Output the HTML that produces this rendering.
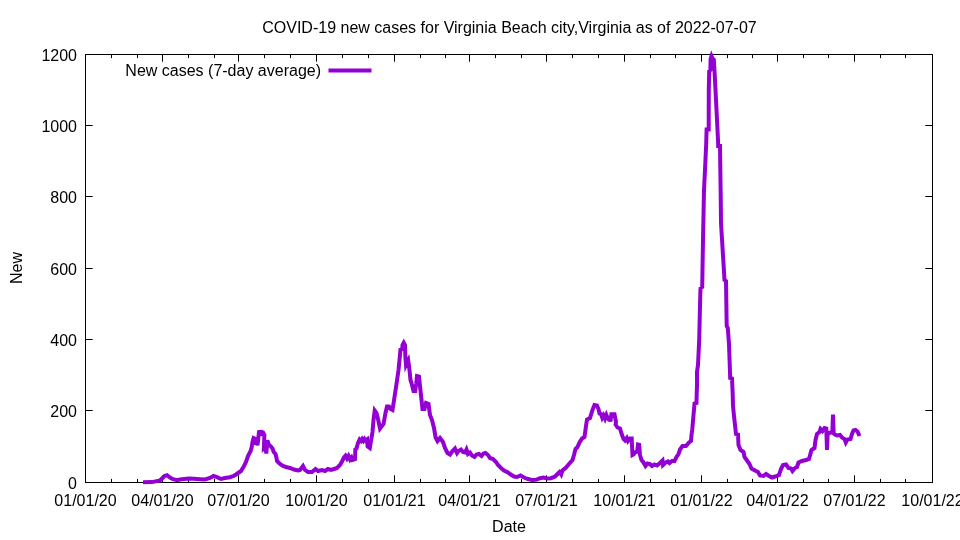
<!DOCTYPE html>
<html><head><meta charset="utf-8"><title>COVID-19 new cases</title>
<style>
html,body{margin:0;padding:0;background:#fff;}
body{width:960px;height:540px;overflow:hidden;font-family:"Liberation Sans",sans-serif;}
svg{display:block;will-change:transform;}
</style></head><body>
<svg width="960" height="540" viewBox="0 0 960 540">
<rect width="960" height="540" fill="#fff"/>
<rect x="85.5" y="54.5" width="847.0" height="428.0" fill="none" stroke="#000" stroke-width="1"/>
<path d="M85.5 482.50h7.2M932.5 482.50h-7.2M85.5 410.50h7.2M932.5 410.50h-7.2M85.5 339.50h7.2M932.5 339.50h-7.2M85.5 268.50h7.2M932.5 268.50h-7.2M85.5 196.50h7.2M932.5 196.50h-7.2M85.5 125.50h7.2M932.5 125.50h-7.2M85.5 54.50h7.2M932.5 54.50h-7.2M162.50 482.5v-7.2M162.50 54.5v7.2M238.50 482.5v-7.2M238.50 54.5v7.2M316.50 482.5v-7.2M316.50 54.5v7.2M394.50 482.5v-7.2M394.50 54.5v7.2M469.50 482.5v-7.2M469.50 54.5v7.2M546.50 482.5v-7.2M546.50 54.5v7.2M624.50 482.5v-7.2M624.50 54.5v7.2M701.50 482.5v-7.2M701.50 54.5v7.2M777.50 482.5v-7.2M777.50 54.5v7.2M854.50 482.5v-7.2M854.50 54.5v7.2M111.50 482.5v-3.6M111.50 54.5v3.6M137.50 482.5v-3.6M137.50 54.5v3.6M188.50 482.5v-3.6M188.50 54.5v3.6M214.50 482.5v-3.6M214.50 54.5v3.6M264.50 482.5v-3.6M264.50 54.5v3.6M290.50 482.5v-3.6M290.50 54.5v3.6M342.50 482.5v-3.6M342.50 54.5v3.6M368.50 482.5v-3.6M368.50 54.5v3.6M420.50 482.5v-3.6M420.50 54.5v3.6M445.50 482.5v-3.6M445.50 54.5v3.6M495.50 482.5v-3.6M495.50 54.5v3.6M521.50 482.5v-3.6M521.50 54.5v3.6M572.50 482.5v-3.6M572.50 54.5v3.6M598.50 482.5v-3.6M598.50 54.5v3.6M650.50 482.5v-3.6M650.50 54.5v3.6M675.50 482.5v-3.6M675.50 54.5v3.6M727.50 482.5v-3.6M727.50 54.5v3.6M752.50 482.5v-3.6M752.50 54.5v3.6M803.50 482.5v-3.6M803.50 54.5v3.6M828.50 482.5v-3.6M828.50 54.5v3.6M880.50 482.5v-3.6M880.50 54.5v3.6M905.50 482.5v-3.6M905.50 54.5v3.6" fill="none" stroke="#000" stroke-width="1"/>
<g font-family="Liberation Sans, sans-serif" font-size="16" fill="#000"><text x="77" y="488.50" text-anchor="end">0</text><text x="77" y="416.50" text-anchor="end">200</text><text x="77" y="345.50" text-anchor="end">400</text><text x="77" y="274.50" text-anchor="end">600</text><text x="77" y="202.50" text-anchor="end">800</text><text x="77" y="131.50" text-anchor="end">1000</text><text x="77" y="60.50" text-anchor="end">1200</text><text x="85.50" y="506" text-anchor="middle">01/01/20</text><text x="162.50" y="506" text-anchor="middle">04/01/20</text><text x="238.50" y="506" text-anchor="middle">07/01/20</text><text x="316.50" y="506" text-anchor="middle">10/01/20</text><text x="394.50" y="506" text-anchor="middle">01/01/21</text><text x="469.50" y="506" text-anchor="middle">04/01/21</text><text x="546.50" y="506" text-anchor="middle">07/01/21</text><text x="624.50" y="506" text-anchor="middle">10/01/21</text><text x="701.50" y="506" text-anchor="middle">01/01/22</text><text x="777.50" y="506" text-anchor="middle">04/01/22</text><text x="854.50" y="506" text-anchor="middle">07/01/22</text><text x="932.50" y="506" text-anchor="middle">10/01/22</text><text x="509.5" y="33" text-anchor="middle">COVID-19 new cases for Virginia Beach city,Virginia as of 2022-07-07</text><text x="509" y="532" text-anchor="middle">Date</text><text transform="translate(22,268) rotate(-90)" text-anchor="middle">New</text><text x="321" y="76" text-anchor="end">New cases (7-day average)</text></g>
<path d="M328.5 70.5H371.5" stroke="#9400d3" stroke-width="4" fill="none"/>
<path d="M143.00 482.30 L152.00 482.10 L160.00 480.50 L162.50 478.00 L164.50 476.00 L167.00 475.20 L170.00 477.50 L173.00 479.20 L177.00 480.20 L180.00 479.50 L184.00 479.00 L189.00 478.50 L194.00 478.80 L200.00 479.20 L205.00 479.50 L210.00 478.00 L213.50 476.00 L217.00 477.20 L221.00 479.00 L225.00 478.00 L230.00 477.20 L234.00 475.80 L236.00 474.50 L241.00 471.00 L244.00 466.00 L246.00 462.00 L248.00 456.00 L250.60 451.00 L251.70 447.00 L252.60 441.50 L253.60 438.00 L255.70 439.00 L257.50 445.30 L259.00 432.00 L261.20 431.70 L263.00 432.30 L264.40 435.00 L263.90 448.25 L265.25 447.00 L266.30 453.50 L267.40 440.25 L268.75 444.50 L271.00 446.50 L272.50 448.50 L273.75 452.00 L275.50 454.00 L276.50 458.00 L277.00 461.00 L280.00 464.00 L283.00 466.00 L286.00 467.00 L290.00 468.00 L294.00 469.50 L298.00 470.50 L300.00 470.00 L303.00 466.00 L305.00 470.00 L308.00 472.00 L312.00 472.00 L315.50 469.00 L318.00 471.00 L322.00 470.00 L325.00 471.00 L328.00 469.00 L331.00 470.00 L334.00 469.00 L337.00 468.00 L340.00 465.00 L342.00 461.50 L344.00 457.50 L345.50 455.80 L347.00 458.50 L348.50 456.00 L350.00 459.50 L351.50 457.50 L352.50 460.00 L355.10 459.00 L355.30 449.50 L356.50 448.50 L358.00 443.00 L359.60 439.50 L361.00 441.00 L362.20 439.00 L363.40 440.80 L364.50 439.00 L365.50 440.50 L367.10 439.30 L367.60 446.50 L369.80 448.00 L372.50 432.00 L373.50 420.00 L374.70 410.50 L376.50 413.00 L377.80 418.00 L380.00 428.50 L383.50 424.00 L385.50 413.00 L387.00 406.50 L389.00 406.50 L390.50 409.00 L392.50 410.00 L394.50 397.00 L396.50 384.00 L398.50 370.00 L400.00 355.00 L400.50 349.50 L402.30 348.30 L402.50 345.00 L403.75 342.70 L405.00 345.00 L405.40 357.50 L406.00 365.00 L408.20 360.50 L409.50 370.00 L410.50 380.00 L411.50 383.00 L413.50 391.00 L415.20 391.00 L416.20 384.00 L417.00 376.00 L419.00 376.50 L420.00 386.00 L421.50 400.00 L422.50 409.00 L424.50 409.00 L426.00 403.00 L428.50 404.00 L430.00 415.00 L432.00 420.00 L434.00 428.00 L435.50 437.00 L437.50 441.00 L440.00 438.00 L443.00 442.00 L445.00 448.00 L447.50 453.00 L450.00 454.50 L452.50 451.00 L455.00 448.50 L457.00 453.00 L458.50 451.00 L461.00 449.50 L463.00 452.00 L465.00 452.50 L466.50 449.50 L468.00 454.00 L470.00 452.50 L472.00 455.50 L474.50 457.00 L476.50 454.50 L479.00 454.00 L481.50 456.00 L483.50 453.50 L485.50 453.00 L488.00 455.00 L490.00 458.00 L493.00 459.00 L496.00 462.00 L498.00 465.00 L501.00 468.00 L504.00 470.50 L508.00 472.50 L510.00 474.00 L514.00 476.50 L517.00 477.00 L520.50 475.50 L524.00 477.50 L528.00 479.00 L532.00 480.00 L536.00 479.80 L540.00 478.20 L543.50 477.50 L547.00 478.50 L551.00 478.20 L555.00 476.50 L558.00 473.50 L559.50 472.00 L561.20 474.50 L562.50 470.50 L566.00 467.50 L569.00 464.00 L572.50 460.00 L574.00 455.00 L575.50 449.00 L577.50 447.00 L579.50 442.50 L582.00 438.50 L584.50 437.00 L586.00 426.00 L587.00 419.50 L590.00 418.00 L592.50 410.00 L594.50 405.00 L597.00 405.50 L598.50 409.00 L599.50 413.50 L601.00 414.00 L602.25 417.80 L603.50 415.50 L605.00 418.80 L606.40 415.00 L607.25 417.00 L608.50 419.00 L609.75 418.50 L610.50 421.50 L611.40 414.25 L614.50 414.25 L616.00 422.00 L615.60 424.50 L617.50 427.50 L620.00 428.50 L621.50 433.50 L623.50 439.00 L625.00 440.50 L626.80 438.00 L628.00 441.00 L630.00 438.50 L631.70 438.50 L632.50 455.00 L633.50 454.50 L635.00 452.50 L636.50 452.00 L637.20 451.50 L638.00 444.50 L639.20 444.80 L640.00 455.00 L641.50 460.00 L643.50 462.50 L645.50 466.00 L647.50 463.50 L650.00 464.00 L652.00 466.00 L654.50 464.50 L657.00 465.50 L660.00 463.00 L662.50 460.50 L663.00 465.00 L665.00 463.00 L668.00 461.50 L669.50 463.00 L672.00 461.00 L674.50 461.00 L676.50 457.00 L678.50 454.00 L680.00 449.50 L682.50 446.00 L686.00 446.00 L689.00 442.50 L691.00 441.00 L691.50 435.00 L692.20 430.00 L694.50 403.50 L696.50 403.00 L696.70 394.00 L697.00 386.00 L697.00 372.00 L698.00 365.00 L699.20 340.00 L700.30 294.00 L700.50 288.50 L702.20 287.00 L703.00 240.00 L704.00 190.00 L705.00 170.00 L706.20 144.00 L706.60 129.50 L708.70 129.50 L708.80 90.00 L709.20 71.00 L710.40 70.00 L710.60 59.00 L711.50 56.00 L712.60 58.50 L713.80 59.50 L714.50 71.00 L715.50 90.00 L718.00 140.00 L718.20 146.00 L720.00 146.00 L720.70 194.00 L721.00 223.00 L722.30 244.00 L724.50 280.00 L726.00 281.00 L726.20 294.00 L726.70 326.00 L727.80 328.00 L729.00 344.00 L730.20 378.00 L732.00 378.50 L732.70 394.00 L733.00 406.00 L734.00 416.00 L736.00 434.00 L738.00 434.50 L738.50 445.00 L740.50 450.00 L743.50 452.00 L744.50 457.00 L747.00 460.50 L749.50 464.00 L751.50 468.50 L755.00 470.50 L758.00 472.00 L760.00 475.50 L763.50 476.00 L766.00 474.00 L769.00 476.00 L772.00 477.50 L775.00 476.50 L779.00 475.00 L781.00 469.00 L783.00 465.00 L786.00 464.50 L788.50 468.00 L791.00 468.50 L792.50 471.00 L795.00 468.00 L797.00 467.00 L798.50 462.50 L802.00 461.00 L806.00 460.00 L809.00 459.00 L811.50 450.00 L814.50 448.00 L815.50 440.00 L817.00 434.00 L819.50 432.00 L820.50 429.00 L822.50 431.00 L824.50 428.00 L826.30 428.50 L827.00 450.00 L827.70 432.50 L829.50 433.00 L831.00 432.50 L832.30 432.50 L833.00 414.50 L833.70 433.50 L835.00 434.50 L837.00 435.50 L840.00 435.00 L842.00 437.50 L844.50 439.00 L845.80 442.50 L847.50 439.50 L850.50 439.00 L852.00 434.00 L853.50 430.50 L855.50 430.00 L857.50 431.50 L859.50 436.00 M260.3 434 L262.6 434.3 M254.6 441.5 L255.6 444.5" stroke="#9400d3" stroke-width="4" fill="none" stroke-linejoin="miter" stroke-miterlimit="4" stroke-linecap="butt"/>
</svg>
</body></html>
